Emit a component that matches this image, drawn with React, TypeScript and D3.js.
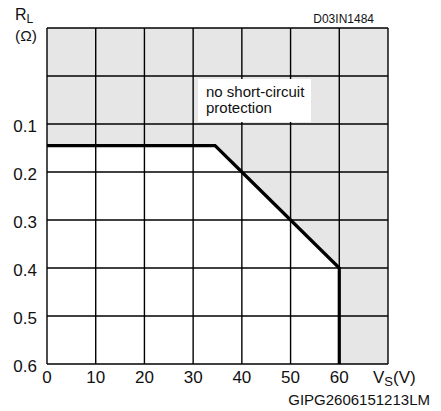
import React from 'react';
import * as d3 from 'd3';

const xTicks = [0, 10, 20, 30, 40, 50, 60];
const yTicks = [0.1, 0.2, 0.3, 0.4, 0.5, 0.6];
const yGrid = [-0.1, 0, 0.1, 0.2, 0.3, 0.4, 0.5, 0.6];
const xGrid = [0, 10, 20, 30, 40, 50, 60, 70];

// limit curve: Vs (V), RL (ohm)
const limitVs = [0, 34.5, 40, 50, 60, 60];
const limitRl = [0.145, 0.145, 0.2, 0.3, 0.4, 0.6];

const font = 'Arial, "Liberation Sans", sans-serif';

const App: React.FC = () => {
    const width = 441;
    const height = 411;
    const margin = { top: 28, right: 53, bottom: 47, left: 47 };

    const x = d3.scaleLinear()
        .domain([0, 70])
        .range([margin.left, width - margin.right]);

    const y = d3.scaleLinear()
        .domain([-0.1, 0.6])
        .range([margin.top, height - margin.bottom]);

    const points: [number, number][] = limitVs.map((v, i) => [v, limitRl[i]]);

    const line = d3.line<[number, number]>()
        .x((d) => x(d[0]))
        .y((d) => y(d[1]));

    // white area below the curve (safe region)
    const safe = d3.area<[number, number]>()
        .x((d) => x(d[0]))
        .y0(y(0.6))
        .y1((d) => y(d[1]));

    return (
        <svg width={width} height={height} style={{ position: 'absolute', left: 0, top: 0 }}>
            <rect x={x(0)} y={y(-0.1)} width={x(70) - x(0)} height={y(0.6) - y(-0.1)} fill="#e6e6e6" />
            <path d={safe(points.slice(0, 5)) || ''} fill="#ffffff" />

            {xGrid.map((v) => (
                <line key={'x' + v} x1={x(v)} x2={x(v)} y1={y(-0.1)} y2={y(0.6)} stroke="#000" strokeWidth={1.4} />
            ))}
            {yGrid.map((v) => (
                <line key={'y' + v} x1={x(0)} x2={x(70)} y1={y(v)} y2={y(v)} stroke="#000" strokeWidth={1.4} />
            ))}

            <rect x={198} y={79} width={113} height={43} fill="#ffffff" />
            <text x={206} y={97} fontFamily={font} fontSize={15} fill="#111">no short-circuit</text>
            <text x={206} y={113} fontFamily={font} fontSize={15} fill="#111">protection</text>

            <path d={line(points) || ''} fill="none" stroke="#000" strokeWidth={3.2} />

            {yTicks.map((v) => (
                <text key={'yl' + v} x={37} y={y(v)} dy="0.46em" textAnchor="end" fontFamily={font} fontSize={17} fill="#111">
                    {v.toFixed(1)}
                </text>
            ))}
            {xTicks.map((v) => (
                <text key={'xl' + v} x={x(v)} y={383} textAnchor="middle" fontFamily={font} fontSize={17} fill="#111">
                    {v}
                </text>
            ))}

            <text x={15} y={20} fontFamily={font} fontSize={16} fill="#111">
                R<tspan fontSize={12} dy={3}>L</tspan>
            </text>
            <text x={15} y={41} fontFamily={font} fontSize={15.5} fill="#111">(Ω)</text>

            <text x={373} y={383} fontFamily={font} fontSize={17} fill="#111">
                V<tspan fontSize={13} dy={3}>S</tspan><tspan dy={-3}>(V)</tspan>
            </text>
            <text x={430} y={405} textAnchor="end" fontFamily={font} fontSize={15} fill="#111">GIPG2606151213LM</text>
            <text x={374} y={23} textAnchor="end" fontFamily={font} fontSize={12} fill="#111">D03IN1484</text>
        </svg>
    );
};

export default App;
